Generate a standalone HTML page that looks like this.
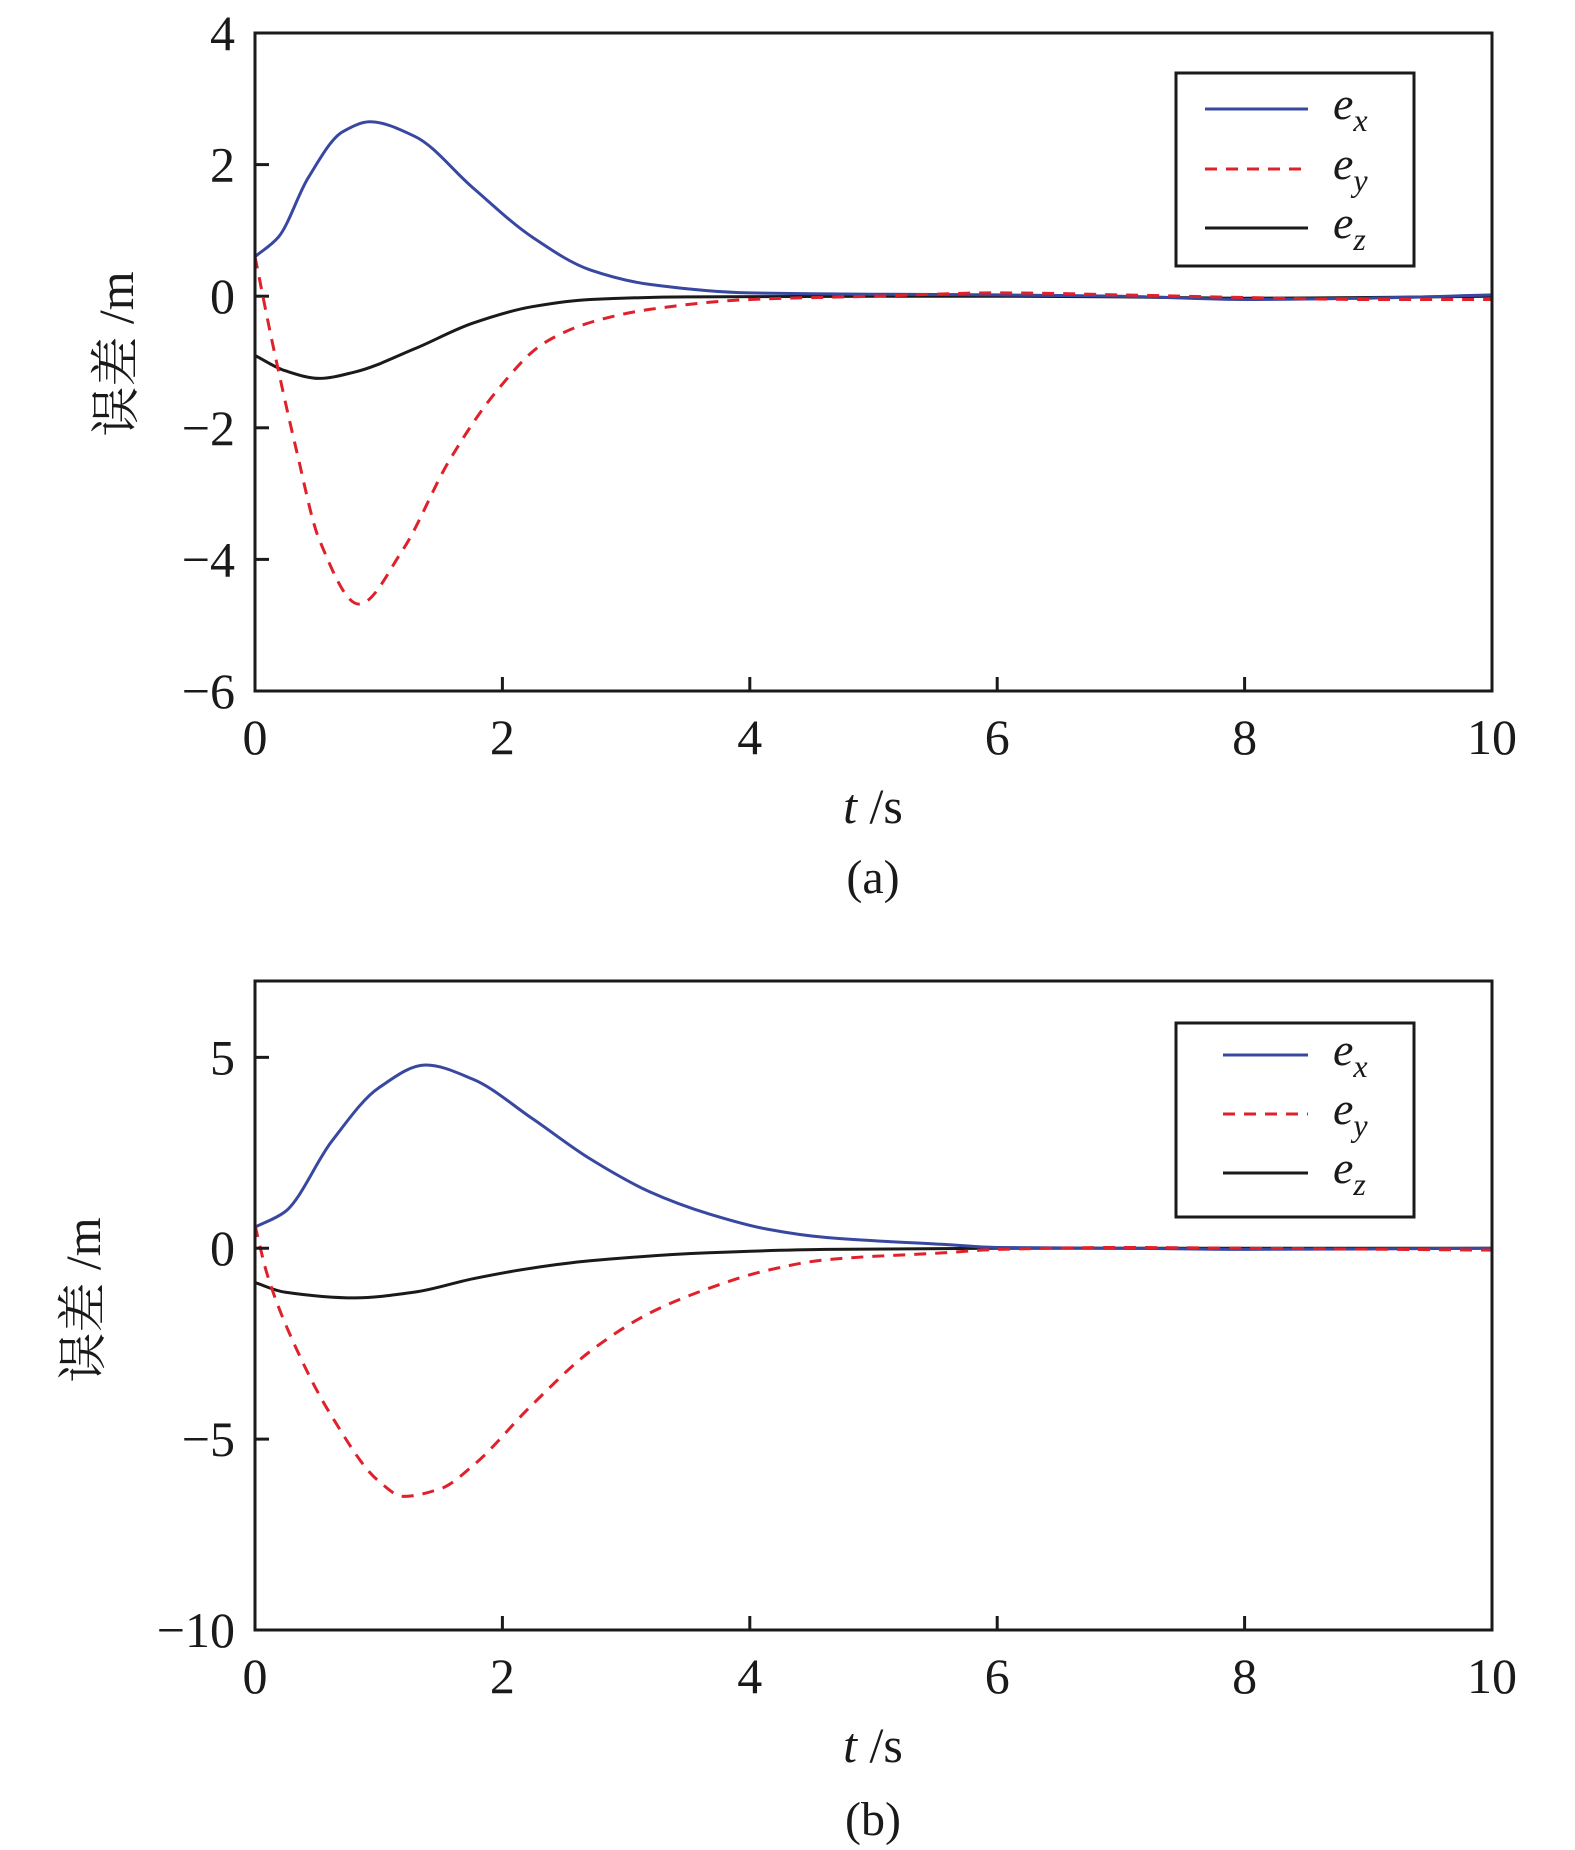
<!DOCTYPE html>
<html><head><meta charset="utf-8">
<style>
html,body{margin:0;padding:0;background:#fff;}
svg{display:block;}
text{font-family:"Liberation Serif","Noto Serif CJK SC",serif;fill:#1a1a1a;}
</style></head>
<body>
<svg id="fig" width="1575" height="1850" viewBox="0 0 1575 1850" xmlns="http://www.w3.org/2000/svg"></svg>
<script>
// ---- data: panel (a) ----
const aT_ex = [0,0.19,0.43,0.71,0.93,1.29,1.76,2.24,2.71,3.19,4,5,6,7,8,9,10];
const aV_ex = [0.6,0.9,1.8,2.5,2.65,2.43,1.65,0.9,0.4,0.18,0.05,0.03,0.02,0,-0.05,-0.03,0.02];
const aT_ey = [0,0.14,0.33,0.52,0.84,1.19,1.57,1.95,2.33,2.71,3.19,4,5,6,7,8,9,10];
const aV_ey = [0.6,-0.7,-2.3,-3.7,-4.68,-3.87,-2.5,-1.45,-0.72,-0.4,-0.2,-0.05,0,0.05,0.02,-0.02,-0.05,-0.05];
const aT_ez = [0,0.24,0.52,0.81,1.29,1.76,2.24,2.71,3.5,5,6,7,8,9,10];
const aV_ez = [-0.9,-1.13,-1.25,-1.15,-0.8,-0.41,-0.16,-0.05,-0.01,0,0,-0.01,-0.03,-0.02,0];
// ---- data: panel (b) ----
const bT_ex = [0,0.24,0.62,1.0,1.38,1.76,2.24,2.71,3.19,3.67,4.14,4.62,5.57,6,7,8,10];
const bV_ex = [0.55,0.95,2.8,4.2,4.8,4.43,3.4,2.34,1.48,0.9,0.5,0.28,0.1,0.02,0,-0.03,0];
const bT_ey = [0,0.1,0.33,0.62,1.0,1.2,1.5,1.76,2.24,2.71,3.19,3.67,4.14,4.62,5.57,6,7,8,10];
const bV_ey = [0.6,-0.7,-2.6,-4.4,-6.1,-6.5,-6.3,-5.7,-4.1,-2.7,-1.7,-1.05,-0.58,-0.3,-0.12,-0.03,0.02,0,-0.05];
const bT_ez = [0,0.24,0.81,1.29,1.76,2.24,2.71,3.67,4.62,6,8,10];
const bV_ez = [-0.9,-1.15,-1.3,-1.15,-0.8,-0.52,-0.33,-0.12,-0.03,0,0,0];
// ---- tick labels ----
const xTicks = [0,2,4,6,8,10];
const aYTicks = [-6,-4,-2,0,2,4];
const bYTicks = [-10,-5,0,5];

const NS = "http://www.w3.org/2000/svg";
const svg = document.getElementById('fig');
function mk(tag, attrs, parent){
  const e = document.createElementNS(NS, tag);
  for (const k in attrs) e.setAttribute(k, attrs[k]);
  (parent||svg).appendChild(e);
  return e;
}
// monotone cubic (Fritsch-Carlson) path in pixel space
function smoothPath(pts){
  const n = pts.length;
  const dx=[], dy=[], m=[];
  for (let i=0;i<n-1;i++){ dx[i]=pts[i+1][0]-pts[i][0]; dy[i]=pts[i+1][1]-pts[i][1]; m[i]=dy[i]/dx[i]; }
  const tg=[m[0]];
  for (let i=1;i<n-1;i++){
    if (m[i-1]*m[i] <= 0) tg[i]=0;
    else { const w1=2*dx[i]+dx[i-1], w2=dx[i]+2*dx[i-1]; tg[i]=(w1+w2)/(w1/m[i-1]+w2/m[i]); }
  }
  tg[n-1]=m[n-2];
  let d = "M"+pts[0][0].toFixed(1)+","+pts[0][1].toFixed(1);
  for (let i=0;i<n-1;i++){
    const h=dx[i]/3;
    d += " C"+(pts[i][0]+h).toFixed(1)+","+(pts[i][1]+tg[i]*h).toFixed(1)+" "+(pts[i+1][0]-h).toFixed(1)+","+(pts[i+1][1]-tg[i+1]*h).toFixed(1)+" "+pts[i+1][0].toFixed(1)+","+pts[i+1][1].toFixed(1);
  }
  return d;
}

function panel(cfg){
  const g = mk('g', {});
  
  
  const L=255, R=1492, T=cfg.top, B=cfg.bottom;
  const xs = t => L + (t-0)/(10-0)*(R-L);
  const ys = v => B - (v-cfg.ymin)/(cfg.ymax-cfg.ymin)*(B-T);
  const cp = mk('clipPath', {id:'clip'+cfg.id}, g);
  mk('rect', {x:L, y:T, width:R-L, height:B-T}, cp);
  const series = [
    {t:cfg.ex[0], v:cfg.ex[1], c:'#3848a0', dash:null, n:'ex'},
    {t:cfg.ey[0], v:cfg.ey[1], c:'#e0202a', dash:'12 9', n:'ey'},
    {t:cfg.ez[0], v:cfg.ez[1], c:'#1a1a1a', dash:null, n:'ez'}
  ];
  [series[2], series[0], series[1]].forEach(s=>{
    const pts = s.t.map((t,i)=>[xs(t), ys(s.v[i])]);
    const p = mk('path', {d:smoothPath(pts), fill:'none', stroke:s.c, 'stroke-width':3, 'clip-path':'url(#clip'+cfg.id+')'}, g);
    if (s.dash) p.setAttribute('stroke-dasharray', s.dash);
    
    
  });
  const fr = mk('rect', {x:L, y:T, width:R-L, height:B-T, fill:'none', stroke:'#1a1a1a', 'stroke-width':3}, g);
  
  
  xTicks.forEach(t=>{
    const x = xs(t);
    if (t>0 && t<10) mk('line', {x1:x, x2:x, y1:B, y2:B-14, stroke:'#1a1a1a','stroke-width':3}, g);
    const tx = mk('text', {x:x, y:B+63, 'text-anchor':'middle', 'font-size':50}, g);
    tx.textContent = t;
    
    
  });
  cfg.yTicks.forEach(v=>{
    const y = ys(v);
    if (v>cfg.ymin && v<cfg.ymax) mk('line', {x1:L, x2:L+14, y1:y, y2:y, stroke:'#1a1a1a','stroke-width':3}, g);
    const tx = mk('text', {x:L-20, y:y+17, 'text-anchor':'end', 'font-size':50}, g);
    tx.textContent = v<0 ? '\u2212'+Math.abs(v) : String(v);
    
    
  });
  const xt = mk('text', {x:873, y:cfg.xTitleY, 'text-anchor':'middle', 'font-size':50}, g);
  xt.innerHTML = '<tspan font-style="italic">t</tspan> /s';
  
  
  const yt = mk('text', {x:0, y:0, 'text-anchor':'middle', 'font-size':50, transform:'translate('+cfg.yTitleX+','+cfg.yTitleCY+') rotate(-90)'}, g);
  yt.textContent = '误差 /m';
  
  
  const cap = mk('text', {x:873, y:cfg.capY, 'text-anchor':'middle', 'font-size':48}, g);
  cap.textContent = cfg.caption;
  
  
  const lg = mk('g', {}, g);
  
  
  mk('rect', {x:1176, y:cfg.legTop, width:238, height:cfg.legH, fill:'#fff', stroke:'#1a1a1a', 'stroke-width':3}, lg);
  const labs = ['x','y','z'];
  series.forEach((s,i)=>{
    const y = cfg.legRows[i];
    const ln = mk('line', {x1:cfg.legX1, x2:1308, y1:y, y2:y, stroke:s.c, 'stroke-width':3}, lg);
    if (s.dash) ln.setAttribute('stroke-dasharray', '12 9');
    
    
    const tx = mk('text', {x:1333, y:y+10, 'font-size':46, 'font-style':'italic'}, lg);
    tx.innerHTML = 'e<tspan font-size="32" dy="12">'+labs[i]+'</tspan>';
    
    
  });
}

panel({id:'a', top:33, bottom:691, ymin:-6, ymax:4, yTicks:aYTicks,
  ex:[aT_ex,aV_ex], ey:[aT_ey,aV_ey], ez:[aT_ez,aV_ez],
  xTitleY:823, yTitleX:133, yTitleCY:354, capY:893, caption:'(a)',
  legTop:73, legH:193, legRows:[109,169,228], legX1:1205});
panel({id:'b', top:981, bottom:1630, ymin:-10, ymax:7, yTicks:bYTicks,
  ex:[bT_ex,bV_ex], ey:[bT_ey,bV_ey], ez:[bT_ez,bV_ez],
  xTitleY:1762, yTitleX:100, yTitleCY:1300, capY:1835, caption:'(b)',
  legTop:1023, legH:194, legRows:[1055,1114,1173], legX1:1223});
</script>
</body></html>
